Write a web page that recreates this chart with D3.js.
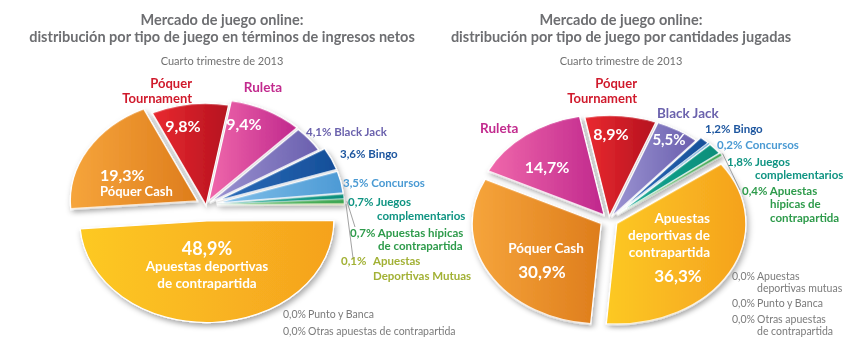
<!DOCTYPE html>
<html><head><meta charset="utf-8">
<script src="https://cdn.jsdelivr.net/npm/d3@7"></script>
<style>body{margin:0;background:#fff} svg{display:block} text{font-family:Lato,"Open Sans",sans-serif}</style>
</head><body><svg id="c" width="846" height="358"></svg>
<script>
// ---------------- DATA ----------------
const titleLine1 = "Mercado de juego online:";
const leftTitle2 = "distribución por tipo de juego en términos de ingresos netos";
const rightTitle2 = "distribución por tipo de juego por cantidades jugadas";
const subtitle = "Cuarto trimestre de 2013";

const leftCategories = ["Póquer Tournament","Ruleta","Black Jack","Bingo","Concursos","Juegos complementarios","Apuestas hípicas de contrapartida","Apuestas Deportivas Mutuas","Apuestas deportivas de contrapartida","Póquer Cash"];
const leftValues = [9.8, 9.4, 4.1, 3.6, 3.5, 0.7, 0.7, 0.1, 48.9, 19.3];
const leftZeroCategories = ["Punto y Banca","Otras apuestas de contrapartida"];
const leftZeroValues = [0.0, 0.0];

const rightCategories = ["Póquer Tournament","Black Jack","Bingo","Concursos","Juegos complementarios","Apuestas hípicas de contrapartida","Apuestas deportivas de contrapartida","Póquer Cash","Ruleta"];
const rightValues = [8.9, 5.5, 1.2, 0.2, 1.8, 0.4, 36.3, 30.9, 14.7];
const rightZeroCategories = ["Apuestas deportivas mutuas","Punto y Banca","Otras apuestas de contrapartida"];
const rightZeroValues = [0.0, 0.0, 0.0];

// ---------------- STYLE ----------------
const keyOf = c => ({
  "Póquer Tournament":"tour","Ruleta":"rul","Black Jack":"bj","Bingo":"bingo","Concursos":"conc",
  "Juegos complementarios":"jue","Apuestas hípicas de contrapartida":"hip",
  "Apuestas Deportivas Mutuas":"mut","Apuestas deportivas mutuas":"mut",
  "Apuestas deportivas de contrapartida":"dep","Póquer Cash":"cash"}[c]);
const grad = {
  tour:["#ea2a30","#b5121f"], rul:["#f068ab","#c0288d"], bj:["#9c94d2","#6a5fae"],
  bingo:["#2b6dba","#164f99"], conc:["#82c1ea","#4d9ad5"], jue:["#18aa95","#0a8e7a"],
  hip:["#72c46c","#3ca653"], mut:["#ccd86c","#adbf3e"], dep:["#fdc924","#f5a21e"], cash:["#f6a53c","#de7d1c"]
};
const textCol = {tour:"#d01a2c", rul:"#c22b8e", bj:"#6b62ad", bingo:"#1d569f", conc:"#4a9ad3",
  jue:"#0f9482", hip:"#2e9b4b", mut:"#a2b135", grey:"#7b7b7b", title:"#6d6e71"};

const fmt = v => v.toFixed(1).replace(".", ",") + "%";

const svg = d3.select("#c");
const defs = svg.append("defs");
Object.entries(grad).forEach(([k,[a,b]]) => {
  const lg = defs.append("linearGradient").attr("id","g-"+k).attr("x1",0).attr("x2",1).attr("y1",0).attr("y2",0);
  lg.append("stop").attr("offset","0%").attr("stop-color",a);
  lg.append("stop").attr("offset","100%").attr("stop-color",b);
});
const f = defs.append("filter").attr("id","shadow").attr("x","-20%").attr("y","-20%").attr("width","140%").attr("height","140%");
f.append("feDropShadow").attr("dx",2).attr("dy",4).attr("stdDeviation",3).attr("flood-color","#000").attr("flood-opacity",0.33);

// ---------------- PIE ----------------
function drawPie(cats, vals, o) {
  const data = cats.map((c,i)=>({c, v: vals[i]}));
  const pie = d3.pie().sort(null).value(d=>d.v).startAngle(o.start).endAngle(o.start + 2*Math.PI);
  const arcs = pie(data);
  const arc = d3.arc().innerRadius(0).outerRadius(o.R);
  const g = svg.append("g").attr("transform",`translate(${o.cx},${o.cy}) scale(1,${o.k})`).attr("filter","url(#shadow)");
  const off = d => { const m=(d.startAngle+d.endAngle)/2, e=o.explode[keyOf(d.data.c)] ?? 6; return [Math.sin(m)*e, -Math.cos(m)*e]; };
  g.selectAll("path").data(arcs.filter(d=>d.data.v>0)).join("path")
    .attr("transform", d => `translate(${off(d)})`)
    .attr("d", arc)
    .attr("fill", d => `url(#g-${keyOf(d.data.c)})`)
    .attr("stroke","#fff").attr("stroke-width", d => d.data.v < 1 ? 0.4 : 1.2)
    .attr("vector-effect","non-scaling-stroke");
  const outer = (cat, rr) => {
    const d = arcs.find(a=>a.data.c===cat); const m=(d.startAngle+d.endAngle)/2; const [ox,oy]=off(d);
    return [o.cx + ox + Math.sin(m)*rr, o.cy + o.k*(oy - Math.cos(m)*rr)];
  };
  return {arcs, outer, byCat: c => data.find(d=>d.c===c)};
}

const L = drawPie(leftCategories, leftValues, {cx:206, cy:205, R:127, k:0.8, start:-25*Math.PI/180,
  explode:{tour:0, rul:6, bj:5, bingo:11, conc:11, jue:11, hip:11, mut:11, dep:20, cash:10}});
const Rt = drawPie(rightCategories, rightValues, {cx:609, cy:220, R:129, k:0.78, start:-11*Math.PI/180,
  explode:{tour:5, bj:5, bingo:11, conc:11, jue:11, hip:11, dep:9, cash:9, rul:8}});

// ---------------- TEXT ----------------
function txt(x, y, s, opt={}) {
  return svg.append("text").attr("x",x).attr("y",y).text(s)
    .attr("font-size", opt.size||11.5).attr("font-weight", opt.w||"bold")
    .attr("fill", opt.fill||"#fff").attr("text-anchor", opt.anchor||"start");
}
[[222,leftTitle2],[621,rightTitle2]].forEach(([cx,t2])=>{
  txt(cx, 25, titleLine1, {size:14.5, fill:textCol.title, anchor:"middle"});
  txt(cx, 42, t2, {size:14.5, fill:textCol.title, anchor:"middle"});
  txt(cx, 65, subtitle, {size:11, w:"normal", fill:"#707070", anchor:"middle"});
});

const lv = c => fmt(L.byCat(c).v);
const rv = c => fmt(Rt.byCat(c).v);

// ---- left labels
txt(192, 88, "Póquer", {size:13, fill:textCol.tour, anchor:"end"});
txt(192, 102.5, "Tournament", {size:13, fill:textCol.tour, anchor:"end"});
txt(263, 92, "Ruleta", {size:13.5, fill:textCol.rul, anchor:"middle"});
txt(183, 132, lv("Póquer Tournament"), {size:16, anchor:"middle"});
txt(244, 130, lv("Ruleta"), {size:16, anchor:"middle"});
txt(306, 136, lv("Black Jack")+" Black Jack", {fill:textCol.bj});
txt(340, 158, lv("Bingo")+" Bingo", {fill:textCol.bingo});
txt(343, 187, lv("Concursos")+" Concursos", {fill:textCol.conc});
txt(348, 206, lv("Juegos complementarios")+" Juegos", {fill:textCol.jue});
txt(377, 220, "complementarios", {fill:textCol.jue});
txt(350, 236.5, lv("Apuestas hípicas de contrapartida")+" Apuestas hípicas", {fill:textCol.hip});
txt(378, 250, "de contrapartida", {fill:textCol.hip});
txt(341, 265, lv("Apuestas Deportivas Mutuas"), {fill:textCol.mut});
txt(373, 265, "Apuestas", {fill:textCol.mut});
txt(373, 280, "Deportivas Mutuas", {fill:textCol.mut});
txt(100, 181, lv("Póquer Cash"), {size:16});
txt(100, 196, "Póquer Cash", {size:13});
txt(207, 255, lv("Apuestas deportivas de contrapartida"), {size:18, anchor:"middle"});
txt(207, 271, "Apuestas deportivas", {size:13.5, anchor:"middle"});
txt(207, 288, "de contrapartida", {size:13.5, anchor:"middle"});
leftZeroCategories.forEach((c,i)=>{
  const y = 318 + i*17;
  txt(283, y, fmt(leftZeroValues[i]), {size:10.5, w:"normal", fill:textCol.grey});
  txt(308, y, c, {size:10.5, w:"normal", fill:textCol.grey});
});
const lines = [
  [L.outer("Apuestas hípicas de contrapartida", 130), [355,227]],
  [L.outer("Apuestas Deportivas Mutuas", 129), [353,258]]
];

// ---- right labels
txt(637, 88, "Póquer", {size:13, fill:textCol.tour, anchor:"end"});
txt(637, 102.5, "Tournament", {size:13, fill:textCol.tour, anchor:"end"});
txt(657, 118, "Black Jack", {size:13.5, fill:textCol.bj});
txt(480, 133, "Ruleta", {size:13.5, fill:textCol.rul});
txt(611, 140, rv("Póquer Tournament"), {size:16, anchor:"middle"});
txt(669, 145, rv("Black Jack"), {size:15, anchor:"middle"});
txt(547, 173, rv("Ruleta"), {size:16, anchor:"middle"});
txt(705, 133, rv("Bingo")+" Bingo", {fill:textCol.bingo});
txt(717, 149, rv("Concursos")+" Concursos", {fill:textCol.conc});
txt(727, 166, rv("Juegos complementarios")+" Juegos", {fill:textCol.jue});
txt(755, 179, "complementarios", {fill:textCol.jue});
txt(742, 195, rv("Apuestas hípicas de contrapartida")+" Apuestas", {fill:textCol.hip});
txt(770, 208, "hípicas de", {fill:textCol.hip});
txt(770, 222, "contrapartida", {fill:textCol.hip});
txt(710, 223, "Apuestas", {size:13.5, anchor:"end"});
txt(710, 240, "deportivas de", {size:13.5, anchor:"end"});
txt(710, 257, "contrapartida", {size:13.5, anchor:"end"});
txt(678, 282, rv("Apuestas deportivas de contrapartida"), {size:17, anchor:"middle"});
txt(546, 253, "Póquer Cash", {size:13.5, anchor:"middle"});
txt(542, 278, rv("Póquer Cash"), {size:17, anchor:"middle"});
const rz = [[280, ["Apuestas","deportivas mutuas"]], [307, ["Punto y Banca"]], [323, ["Otras apuestas","de contrapartida"]]];
rightZeroCategories.forEach((c,i)=>{
  const [y, parts] = rz[i];
  txt(732, y, fmt(rightZeroValues[i]), {size:10.5, w:"normal", fill:textCol.grey});
  parts.forEach((p,j)=> txt(757, y + j*12, p, {size:10.5, w:"normal", fill:textCol.grey}));
});
lines.push([Rt.outer("Apuestas hípicas de contrapartida", 131), [740,190]]);

svg.append("g").selectAll("line").data(lines).join("line")
  .attr("x1", d=>d[0][0]).attr("y1", d=>d[0][1]).attr("x2", d=>d[1][0]).attr("y2", d=>d[1][1])
  .attr("stroke","#8a8a8a").attr("stroke-width",0.8);
</script></body></html>
